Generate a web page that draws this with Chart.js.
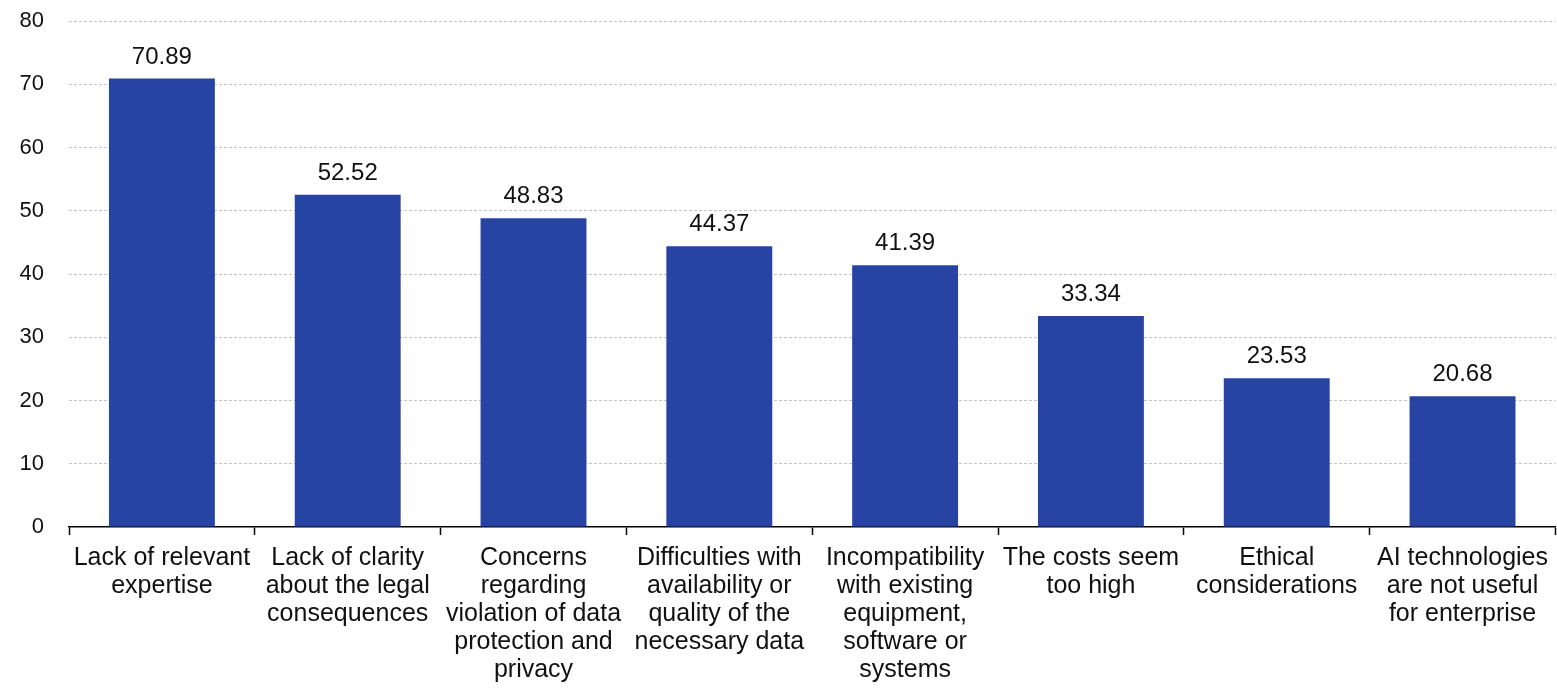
<!DOCTYPE html>
<html>
<head>
<meta charset="utf-8">
<script src="https://cdn.jsdelivr.net/npm/chart.js@4/dist/chart.umd.min.js"></script>
<style>
  html, body { margin: 0; padding: 0; background: #fff; }
  #wrap { width: 1557px; height: 689px; position: relative; }
</style>
</head>
<body>
<div id="wrap"><canvas id="chart"></canvas></div>
<script>
// ========== data ==========
const categories = [
    ['Lack of relevant', 'expertise'],
    ['Lack of clarity', 'about the legal', 'consequences'],
    ['Concerns', 'regarding', 'violation of data', 'protection and', 'privacy'],
    ['Difficulties with', 'availability or', 'quality of the', 'necessary data'],
    ['Incompatibility', 'with existing', 'equipment,', 'software or', 'systems'],
    ['The costs seem', 'too high'],
    ['Ethical', 'considerations'],
    ['AI technologies', 'are not useful', 'for enterprise']
]
const values = [70.89, 52.52, 48.83, 44.37, 41.39, 33.34, 23.53, 20.68]
const yTicks = [0, 10, 20, 30, 40, 50, 60, 70, 80]

const barColor = '#2743A4'
const fontFamily = '"Liberation Sans", Arial, sans-serif'

// ========== value labels above bars ==========
const valueLabels = {
    id: 'valueLabels',
    afterDatasetsDraw(chart) {
        const ctx = chart.ctx
        const meta = chart.getDatasetMeta(0)
        ctx.save()
        ctx.font = '24px ' + fontFamily
        ctx.fillStyle = '#111'
        ctx.textAlign = 'center'
        ctx.textBaseline = 'alphabetic'
        meta.data.forEach((bar, i) => {
            ctx.fillText(values[i].toFixed(2), bar.x, bar.y - 15)
        })
        ctx.restore()
    }
}

const ctx = document.getElementById('chart').getContext('2d')
new Chart(ctx, {
    type: 'bar',
    data: {
        labels: categories,
        datasets: [{
            data: values,
            backgroundColor: barColor,
            borderWidth: 0,
            categoryPercentage: 0.57,
            barPercentage: 1.0
        }]
    },
    options: {
        responsive: true,
        maintainAspectRatio: false,
        animation: false,
        layout: { padding: 0 },
        plugins: {
            legend: { display: false },
            tooltip: { enabled: false }
        },
        scales: {
            x: {
                afterFit(scale) { scale.height = 162 },
                border: { display: true, color: '#000', width: 1.5 },
                grid: {
                    offset: true,
                    drawOnChartArea: false,
                    drawTicks: true,
                    tickLength: 8,
                    tickColor: '#000',
                    tickWidth: 1.5
                },
                ticks: {
                    color: '#111',
                    maxRotation: 0,
                    autoSkip: false,
                    padding: 9,
                    font: { family: fontFamily, size: 25, lineHeight: 1.12 }
                }
            },
            y: {
                min: 0,
                max: 80,
                afterFit(scale) {
                    scale.width = 69
                    scale.paddingTop = 21
                    scale.paddingBottom = 0
                },
                afterBuildTicks(scale) { scale.ticks = yTicks.map(v => ({ value: v })) },
                border: { display: false, dash: [3, 2] },
                grid: {
                    drawTicks: false,
                    color: (c) => c.tick && c.tick.value === 0 ? 'rgba(0,0,0,0)' : '#c4c4c4',
                    lineWidth: 1
                },
                ticks: {
                    color: '#111',
                    padding: 25,
                    font: { family: fontFamily, size: 22 }
                }
            }
        }
    },
    plugins: [valueLabels]
})
</script>
</body>
</html>
